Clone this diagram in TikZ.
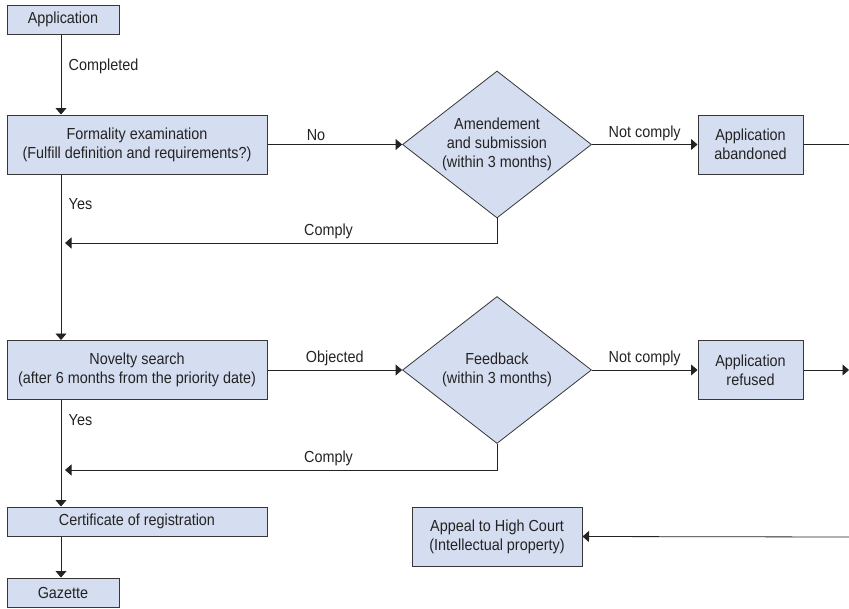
\documentclass[tikz,border=0pt]{standalone}
\usepackage{fontspec}
\setmainfont[FakeStretch=0.9]{Liberation Sans}
\usetikzlibrary{shapes.geometric,arrows.meta}
\definecolor{boxfill}{RGB}{213,221,240}
\definecolor{boxline}{RGB}{55,55,55}
\definecolor{ink}{RGB}{35,35,35}

\begin{document}
\begin{tikzpicture}[x=1pt,y=-1pt,text=ink,
	font=\fontsize{16}{19}\selectfont,
	box/.style={draw=boxline,fill=boxfill,line width=1pt,inner sep=0pt,align=center},
	decision/.style={diamond,draw=boxline,fill=boxfill,line width=0.8pt,inner sep=0pt,minimum width=189pt,minimum height=147pt},
	line/.style={draw=ink,line width=0.8pt},
	arr/.style={line,-{Triangle[length=6.5pt,width=11pt]}}]
	\useasboundingbox (0,0) rectangle (849,608);
	\node[box,minimum width=112pt,minimum height=29pt] (app) at (63,19.5) {Application};
	\node[box,minimum width=260pt,minimum height=59pt] (formal) at (137,144.5) {Formality examination\\(Fulfill definition and requirements?)};
	\node[decision] (amend) at (497,144.5) {};
	\node[align=center] (amendtxt) at (amend) {Amendement\\and submission\\(within 3 months)};
	\node[box,minimum width=105pt,minimum height=59pt] (abandon) at (750.5,144.5) {Application\\abandoned};
	\node[box,minimum width=260pt,minimum height=59pt] (novelty) at (137,370) {Novelty search\\(after 6 months from the priority date)};
	\node[decision] (feedback) at (497,370) {};
	\node[align=center] (feedbacktxt) at (feedback) {Feedback\\(within 3 months)};
	\node[box,minimum width=105pt,minimum height=59pt] (refused) at (750.5,370) {Application\\refused};
	\node[box,minimum width=260pt,minimum height=29pt] (cert) at (137,521.5) {Certificate of registration};
	\node[box,minimum width=112pt,minimum height=29pt] (gazette) at (63,592.5) {Gazette};
	\node[box,minimum width=170pt,minimum height=59pt] (appeal) at (497,536.5) {Appeal to High Court\\(Intellectual property)};

	\coordinate (spine) at (61,0);
	\coordinate (backA) at (65,243);
	\coordinate (backB) at (65,470);
	\coordinate (rA) at (849,144.5);
	\coordinate (rB) at (849,370);
	\coordinate (rC) at (849,537);

	\draw[arr] (app.south -| spine) -- node[right=4pt,pos=0.4] {Completed} (formal.north -| spine);
	\draw[arr] (formal.south -| spine) -- node[right=4pt,pos=0.18] {Yes} (novelty.north -| spine);
	\draw[arr] (novelty.south -| spine) -- node[right=4pt,pos=0.19] {Yes} (cert.north -| spine);
	\draw[arr] (cert.south -| spine) -- (gazette.north -| spine);
	\draw[arr] (formal.east) -- node[above,pos=0.36] {No} (amend.west);
	\draw[arr] (amend.east) -- node[above] {Not comply} (abandon.west);
	\draw[line] (abandon.east) -- (rA);
	\draw[arr] (amend.south) -- (amend.south |- backA) -- node[above,pos=0.39] {Comply} (backA);
	\draw[arr] (novelty.east) -- node[above] {Objected} (feedback.west);
	\draw[arr] (feedback.east) -- node[above] {Not comply} (refused.west);
	\draw[arr] (refused.east) -- (rB);
	\draw[arr] (feedback.south) -- (feedback.south |- backB) -- node[above,pos=0.39] {Comply} (backB);
	\draw[arr] (rC) -- (appeal.east);
\end{tikzpicture}
\end{document}
